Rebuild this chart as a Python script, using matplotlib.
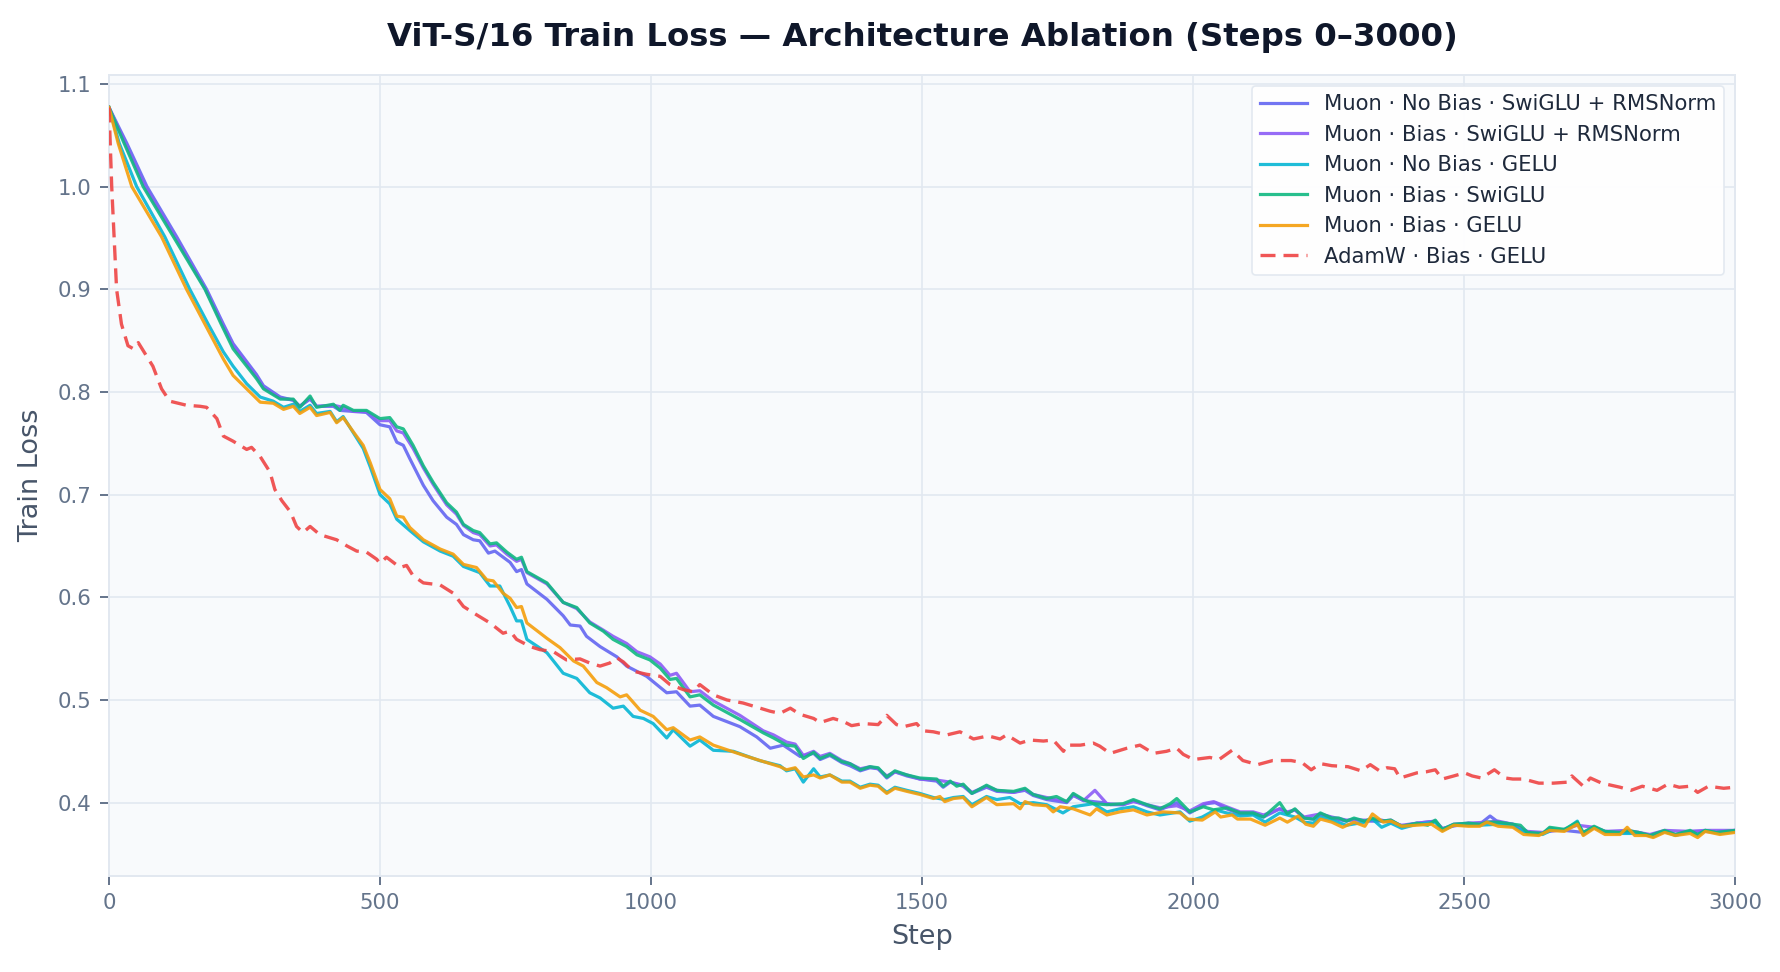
import matplotlib
matplotlib.use("Agg")
import matplotlib.pyplot as plt

# ---------------- data (step, train loss) ----------------
muon_nobias_swiglu_rms = [
    (0, 1.077), (33, 1.042), (70, 1.000), (125, 0.951), (180, 0.900), (211, 0.866), (229, 0.847),
    (272, 0.817), (285, 0.806), (316, 0.795), (340, 0.792), (352, 0.786), (371, 0.793), (383, 0.786),
    (414, 0.786), (426, 0.782), (451, 0.781), (475, 0.780), (500, 0.768), (518, 0.766), (531, 0.751),
    (543, 0.748), (555, 0.735), (580, 0.709), (598, 0.694), (623, 0.678), (641, 0.671), (654, 0.661),
    (672, 0.656), (684, 0.655), (700, 0.643), (712, 0.645), (740, 0.634), (752, 0.625), (761, 0.627),
    (771, 0.613), (808, 0.598), (838, 0.582), (851, 0.573), (869, 0.572), (881, 0.562), (906, 0.552),
    (937, 0.542), (955, 0.533), (992, 0.523), (1029, 0.507), (1047, 0.508), (1072, 0.494), (1090, 0.495),
    (1115, 0.484), (1164, 0.474), (1195, 0.464), (1220, 0.453), (1244, 0.456), (1275, 0.445), (1300, 0.448),
    (1312, 0.442), (1330, 0.446), (1352, 0.439), (1367, 0.436), (1386, 0.431), (1404, 0.434), (1419, 0.433),
    (1435, 0.424), (1450, 0.430), (1472, 0.426), (1496, 0.423), (1527, 0.421), (1539, 0.415), (1552, 0.420),
    (1576, 0.416), (1592, 0.409), (1619, 0.415), (1638, 0.411), (1669, 0.410), (1690, 0.412), (1705, 0.407),
    (1730, 0.403), (1767, 0.400), (1779, 0.407), (1798, 0.402), (1834, 0.400), (1848, 0.398), (1871, 0.398),
    (1890, 0.402), (1915, 0.397), (1939, 0.393), (1970, 0.400), (1994, 0.390), (2025, 0.399), (2041, 0.400),
    (2062, 0.394), (2087, 0.389), (2111, 0.389), (2130, 0.386), (2160, 0.394), (2174, 0.390), (2188, 0.393),
    (2205, 0.385), (2222, 0.384), (2235, 0.389), (2256, 0.385), (2283, 0.382), (2297, 0.384), (2317, 0.382),
    (2348, 0.382), (2365, 0.383), (2385, 0.377), (2413, 0.380), (2447, 0.382), (2460, 0.374), (2481, 0.379),
    (2508, 0.380), (2529, 0.379), (2548, 0.387), (2563, 0.381), (2590, 0.379), (2617, 0.371), (2645, 0.370),
    (2658, 0.375), (2685, 0.373), (2720, 0.371), (2740, 0.376), (2760, 0.372), (2788, 0.371), (2822, 0.371),
    (2843, 0.368), (2870, 0.372), (2890, 0.369), (2917, 0.372), (2945, 0.372), (2965, 0.371), (3000, 0.373),
]

muon_bias_swiglu_rms = [
    (0, 1.077), (30, 1.042), (66, 1.000), (122, 0.951), (178, 0.900), (209, 0.866), (229, 0.845),
    (272, 0.815), (285, 0.804), (316, 0.794), (340, 0.792), (352, 0.786), (371, 0.794), (383, 0.786),
    (414, 0.787), (432, 0.785), (451, 0.781), (475, 0.781), (500, 0.772), (518, 0.772), (531, 0.762),
    (543, 0.760), (561, 0.745), (580, 0.726), (598, 0.710), (623, 0.690), (641, 0.681), (654, 0.670),
    (672, 0.663), (684, 0.661), (703, 0.650), (715, 0.651), (734, 0.642), (752, 0.635), (761, 0.637),
    (771, 0.624), (808, 0.613), (838, 0.595), (863, 0.589), (887, 0.576), (912, 0.568), (930, 0.562),
    (955, 0.555), (974, 0.547), (998, 0.542), (1017, 0.535), (1035, 0.524), (1047, 0.526), (1072, 0.508),
    (1090, 0.509), (1115, 0.499), (1164, 0.485), (1207, 0.470), (1226, 0.466), (1250, 0.459), (1266, 0.457),
    (1281, 0.446), (1300, 0.450), (1312, 0.445), (1330, 0.448), (1352, 0.441), (1367, 0.438), (1386, 0.433),
    (1404, 0.435), (1419, 0.433), (1435, 0.426), (1450, 0.430), (1472, 0.427), (1496, 0.423), (1527, 0.422),
    (1552, 0.420), (1576, 0.417), (1592, 0.410), (1619, 0.416), (1638, 0.412), (1669, 0.410), (1690, 0.413),
    (1705, 0.408), (1730, 0.405), (1767, 0.401), (1779, 0.408), (1798, 0.402), (1819, 0.412), (1841, 0.399),
    (1871, 0.398), (1890, 0.401), (1915, 0.398), (1939, 0.395), (1970, 0.397), (1994, 0.392), (2019, 0.399),
    (2038, 0.401), (2062, 0.396), (2087, 0.391), (2111, 0.391), (2130, 0.388), (2160, 0.394), (2174, 0.391),
    (2188, 0.393), (2205, 0.386), (2235, 0.389), (2256, 0.386), (2283, 0.383), (2317, 0.383), (2348, 0.383),
    (2385, 0.378), (2413, 0.380), (2447, 0.382), (2460, 0.375), (2508, 0.380), (2542, 0.381), (2563, 0.382),
    (2590, 0.379), (2617, 0.372), (2645, 0.371), (2685, 0.374), (2709, 0.378), (2740, 0.376), (2760, 0.372),
    (2801, 0.373), (2843, 0.369), (2870, 0.373), (2917, 0.372), (2945, 0.373), (3000, 0.373),
]

muon_nobias_gelu = [
    (0, 1.077), (19, 1.042), (51, 1.000), (103, 0.951), (149, 0.900), (183, 0.866), (211, 0.839),
    (229, 0.825), (254, 0.808), (279, 0.795), (303, 0.791), (322, 0.785), (340, 0.788), (352, 0.781),
    (371, 0.787), (383, 0.779), (408, 0.781), (420, 0.771), (432, 0.776), (451, 0.760), (469, 0.745),
    (482, 0.727), (500, 0.700), (518, 0.691), (531, 0.676), (555, 0.665), (580, 0.654), (611, 0.645),
    (635, 0.640), (654, 0.630), (684, 0.624), (703, 0.611), (721, 0.611), (740, 0.591), (752, 0.577),
    (761, 0.577), (771, 0.559), (808, 0.546), (838, 0.526), (863, 0.521), (887, 0.507), (906, 0.502),
    (930, 0.492), (949, 0.494), (967, 0.484), (986, 0.482), (1004, 0.477), (1029, 0.463), (1041, 0.471),
    (1072, 0.455), (1090, 0.461), (1115, 0.451), (1152, 0.450), (1200, 0.441), (1238, 0.436), (1250, 0.431),
    (1266, 0.433), (1281, 0.420), (1300, 0.433), (1312, 0.425), (1330, 0.427), (1352, 0.421), (1367, 0.421),
    (1386, 0.415), (1404, 0.418), (1419, 0.417), (1435, 0.410), (1450, 0.415), (1472, 0.412), (1496, 0.409),
    (1521, 0.405), (1542, 0.403), (1558, 0.405), (1576, 0.406), (1592, 0.398), (1619, 0.406), (1638, 0.403),
    (1662, 0.405), (1681, 0.399), (1705, 0.400), (1730, 0.398), (1760, 0.390), (1779, 0.396), (1816, 0.399),
    (1841, 0.391), (1865, 0.394), (1890, 0.396), (1915, 0.391), (1939, 0.388), (1976, 0.391), (1994, 0.382),
    (2017, 0.386), (2041, 0.393), (2062, 0.390), (2087, 0.387), (2111, 0.388), (2133, 0.381), (2160, 0.390),
    (2188, 0.386), (2205, 0.381), (2222, 0.380), (2235, 0.386), (2256, 0.383), (2283, 0.378), (2317, 0.381),
    (2331, 0.384), (2348, 0.376), (2365, 0.380), (2385, 0.375), (2413, 0.379), (2447, 0.381), (2460, 0.373),
    (2481, 0.378), (2508, 0.378), (2529, 0.378), (2563, 0.379), (2590, 0.377), (2617, 0.370), (2645, 0.369),
    (2665, 0.374), (2685, 0.373), (2709, 0.382), (2720, 0.369), (2740, 0.376), (2760, 0.371), (2788, 0.370),
    (2822, 0.370), (2849, 0.367), (2870, 0.372), (2890, 0.368), (2917, 0.372), (2931, 0.368), (2945, 0.373),
    (2972, 0.370), (3000, 0.372),
]

muon_bias_swiglu = [
    (0, 1.077), (28, 1.042), (63, 1.000), (119, 0.951), (177, 0.900), (207, 0.866), (229, 0.842),
    (272, 0.813), (285, 0.803), (316, 0.793), (340, 0.793), (352, 0.785), (371, 0.796), (383, 0.785),
    (414, 0.788), (426, 0.782), (432, 0.787), (451, 0.782), (475, 0.782), (500, 0.774), (518, 0.775),
    (531, 0.766), (543, 0.764), (561, 0.748), (580, 0.728), (598, 0.712), (623, 0.692), (641, 0.683),
    (654, 0.671), (672, 0.665), (684, 0.663), (703, 0.652), (715, 0.653), (734, 0.644), (752, 0.637),
    (761, 0.639), (771, 0.625), (808, 0.614), (838, 0.595), (863, 0.590), (887, 0.575), (912, 0.567),
    (930, 0.559), (955, 0.552), (974, 0.544), (998, 0.539), (1017, 0.531), (1035, 0.520), (1047, 0.521),
    (1072, 0.503), (1090, 0.505), (1115, 0.495), (1164, 0.481), (1207, 0.468), (1226, 0.463), (1250, 0.456),
    (1266, 0.455), (1281, 0.443), (1300, 0.449), (1312, 0.443), (1330, 0.447), (1352, 0.440), (1367, 0.438),
    (1386, 0.432), (1404, 0.435), (1419, 0.434), (1435, 0.425), (1450, 0.431), (1472, 0.427), (1496, 0.424),
    (1527, 0.423), (1539, 0.416), (1552, 0.421), (1564, 0.416), (1576, 0.418), (1592, 0.409), (1619, 0.417),
    (1638, 0.412), (1669, 0.411), (1690, 0.414), (1705, 0.408), (1730, 0.404), (1748, 0.406), (1767, 0.401),
    (1779, 0.409), (1798, 0.403), (1816, 0.399), (1841, 0.398), (1871, 0.399), (1890, 0.403), (1915, 0.398),
    (1939, 0.394), (1958, 0.399), (1970, 0.404), (1994, 0.391), (2019, 0.396), (2038, 0.393), (2062, 0.395),
    (2087, 0.390), (2111, 0.390), (2130, 0.386), (2160, 0.400), (2174, 0.389), (2188, 0.394), (2205, 0.385),
    (2222, 0.384), (2235, 0.390), (2256, 0.385), (2269, 0.385), (2283, 0.382), (2297, 0.385), (2317, 0.382),
    (2331, 0.385), (2348, 0.382), (2365, 0.383), (2385, 0.377), (2413, 0.380), (2433, 0.378), (2447, 0.383),
    (2460, 0.374), (2481, 0.379), (2508, 0.380), (2529, 0.379), (2542, 0.381), (2563, 0.381), (2590, 0.379),
    (2604, 0.378), (2617, 0.371), (2645, 0.370), (2658, 0.376), (2685, 0.374), (2709, 0.381), (2720, 0.371),
    (2740, 0.377), (2760, 0.372), (2788, 0.371), (2801, 0.373), (2822, 0.371), (2843, 0.368), (2870, 0.373),
    (2890, 0.369), (2917, 0.373), (2931, 0.369), (2945, 0.373), (2965, 0.371), (3000, 0.373),
]

muon_bias_gelu = [
    (0, 1.077), (17, 1.042), (42, 1.000), (97, 0.951), (143, 0.900), (177, 0.866), (211, 0.832),
    (229, 0.816), (254, 0.803), (279, 0.790), (303, 0.789), (322, 0.783), (340, 0.786), (352, 0.779),
    (371, 0.785), (383, 0.777), (408, 0.780), (420, 0.770), (432, 0.775), (451, 0.761), (469, 0.748),
    (482, 0.731), (500, 0.705), (518, 0.696), (531, 0.679), (543, 0.678), (555, 0.668), (580, 0.656),
    (611, 0.647), (635, 0.642), (654, 0.632), (678, 0.629), (697, 0.617), (709, 0.616), (727, 0.604),
    (740, 0.599), (752, 0.590), (761, 0.591), (771, 0.575), (808, 0.560), (832, 0.551), (857, 0.538),
    (875, 0.533), (900, 0.517), (918, 0.512), (943, 0.503), (955, 0.505), (980, 0.490), (1004, 0.484),
    (1029, 0.471), (1041, 0.473), (1072, 0.461), (1090, 0.464), (1115, 0.456), (1177, 0.445), (1238, 0.435),
    (1250, 0.432), (1266, 0.434), (1281, 0.425), (1300, 0.427), (1312, 0.424), (1330, 0.427), (1352, 0.420),
    (1367, 0.420), (1386, 0.414), (1404, 0.417), (1419, 0.416), (1435, 0.409), (1450, 0.414), (1472, 0.411),
    (1496, 0.408), (1521, 0.404), (1533, 0.406), (1542, 0.401), (1558, 0.404), (1576, 0.405), (1592, 0.396),
    (1619, 0.405), (1638, 0.398), (1669, 0.399), (1681, 0.394), (1690, 0.401), (1705, 0.398), (1730, 0.397),
    (1742, 0.391), (1755, 0.396), (1779, 0.394), (1810, 0.388), (1822, 0.394), (1841, 0.388), (1865, 0.391),
    (1890, 0.393), (1915, 0.388), (1945, 0.391), (1976, 0.390), (1990, 0.384), (2017, 0.383), (2041, 0.391),
    (2051, 0.386), (2072, 0.388), (2082, 0.384), (2106, 0.384), (2133, 0.378), (2160, 0.385), (2174, 0.381),
    (2194, 0.387), (2208, 0.379), (2222, 0.377), (2235, 0.384), (2256, 0.381), (2276, 0.376), (2297, 0.381),
    (2317, 0.377), (2331, 0.389), (2351, 0.381), (2365, 0.382), (2385, 0.377), (2413, 0.378), (2440, 0.379),
    (2460, 0.372), (2481, 0.378), (2508, 0.377), (2529, 0.377), (2542, 0.381), (2563, 0.377), (2590, 0.376),
    (2610, 0.369), (2638, 0.368), (2658, 0.373), (2685, 0.372), (2709, 0.379), (2720, 0.368), (2740, 0.375),
    (2760, 0.369), (2788, 0.369), (2801, 0.376), (2815, 0.368), (2836, 0.368), (2849, 0.366), (2870, 0.371),
    (2890, 0.368), (2917, 0.370), (2931, 0.366), (2945, 0.372), (2972, 0.369), (3000, 0.371),
]

adamw_bias_gelu = [
    (0, 1.077), (5, 1.000), (14, 0.900), (23, 0.866), (35, 0.845), (45, 0.842), (54, 0.848),
    (81, 0.825), (97, 0.803), (112, 0.791), (143, 0.787), (168, 0.786), (180, 0.785), (199, 0.774),
    (211, 0.757), (229, 0.752), (254, 0.744), (263, 0.746), (279, 0.737), (297, 0.722), (306, 0.705),
    (319, 0.694), (335, 0.683), (346, 0.669), (358, 0.663), (371, 0.669), (389, 0.661), (408, 0.658),
    (420, 0.656), (439, 0.650), (457, 0.645), (475, 0.644), (494, 0.637), (500, 0.633), (512, 0.639),
    (537, 0.629), (549, 0.631), (561, 0.621), (580, 0.614), (611, 0.612), (635, 0.604), (654, 0.591),
    (678, 0.583), (703, 0.575), (727, 0.565), (740, 0.567), (752, 0.559), (777, 0.552), (795, 0.549),
    (820, 0.547), (844, 0.539), (869, 0.540), (887, 0.536), (906, 0.533), (924, 0.536), (937, 0.541),
    (949, 0.537), (967, 0.528), (992, 0.525), (1017, 0.523), (1035, 0.515), (1060, 0.510), (1078, 0.508),
    (1090, 0.515), (1115, 0.505), (1140, 0.500), (1170, 0.497), (1201, 0.492), (1220, 0.489), (1238, 0.487),
    (1257, 0.492), (1275, 0.486), (1300, 0.482), (1312, 0.478), (1336, 0.482), (1355, 0.479), (1370, 0.475),
    (1392, 0.477), (1419, 0.476), (1435, 0.485), (1453, 0.476), (1466, 0.474), (1490, 0.477), (1502, 0.470),
    (1521, 0.469), (1546, 0.466), (1570, 0.469), (1595, 0.462), (1622, 0.465), (1644, 0.462), (1656, 0.466),
    (1681, 0.458), (1699, 0.461), (1724, 0.460), (1742, 0.461), (1761, 0.450), (1767, 0.456), (1792, 0.456),
    (1816, 0.458), (1828, 0.455), (1847, 0.448), (1878, 0.453), (1902, 0.456), (1927, 0.448), (1951, 0.450),
    (1970, 0.453), (1982, 0.447), (2001, 0.442), (2031, 0.444), (2048, 0.442), (2072, 0.451), (2092, 0.441),
    (2119, 0.437), (2147, 0.441), (2181, 0.441), (2201, 0.439), (2218, 0.432), (2235, 0.438), (2256, 0.436),
    (2286, 0.435), (2310, 0.431), (2327, 0.437), (2344, 0.431), (2358, 0.434), (2372, 0.433), (2382, 0.424),
    (2413, 0.429), (2430, 0.430), (2447, 0.432), (2460, 0.423), (2481, 0.426), (2501, 0.429), (2515, 0.426),
    (2532, 0.424), (2556, 0.432), (2576, 0.424), (2590, 0.423), (2610, 0.423), (2638, 0.419), (2665, 0.419),
    (2692, 0.420), (2699, 0.426), (2720, 0.416), (2733, 0.424), (2754, 0.419), (2788, 0.415), (2808, 0.412),
    (2829, 0.416), (2856, 0.412), (2876, 0.418), (2897, 0.415), (2917, 0.416), (2931, 0.410), (2951, 0.416),
    (2979, 0.414), (3000, 0.415),
]

series_labels = [
    "Muon · No Bias · SwiGLU + RMSNorm",
    "Muon · Bias · SwiGLU + RMSNorm",
    "Muon · No Bias · GELU",
    "Muon · Bias · SwiGLU",
    "Muon · Bias · GELU",
    "AdamW · Bias · GELU",
]
series_data = [
    muon_nobias_swiglu_rms,
    muon_bias_swiglu_rms,
    muon_nobias_gelu,
    muon_bias_swiglu,
    muon_bias_gelu,
    adamw_bias_gelu,
]
series_colors = ["#6366f1", "#8b5cf6", "#06b6d4", "#10b981", "#f59e0b", "#ef4444"]

x_ticks = [0, 500, 1000, 1500, 2000, 2500, 3000]
y_ticks = [0.4, 0.5, 0.6, 0.7, 0.8, 0.9, 1.0, 1.1]

title_text = "ViT-S/16 Train Loss — Architecture Ablation (Steps 0–3000)"

# ---------------- figure ----------------
plt.rcParams["font.family"] = ["DejaVu Sans"]
fig = plt.figure(figsize=(17.81, 9.72), dpi=100)
fig.patch.set_facecolor("white")
ax = fig.add_axes([0.0612, 0.0988, 0.9130, 0.8240])
ax.set_facecolor("#f8fafc")

for data, label, color in zip(series_data, series_labels, series_colors):
    steps = [p[0] for p in data]
    loss = [p[1] for p in data]
    if label.startswith("AdamW"):
        ax.plot(steps, loss, color=color, lw=2.4, alpha=0.9,
                linestyle=(0, (4.5, 2.4)), label=label, zorder=3)
    else:
        ax.plot(steps, loss, color=color, lw=2.3, alpha=0.9, label=label, zorder=3)

ax.set_xlim(0, 3000)
ax.set_ylim(0.3286, 1.1086)
ax.set_xticks(x_ticks)
ax.set_yticks(y_ticks)
ax.set_yticklabels([f"{v:.1f}" for v in y_ticks])

ax.grid(True, color="#e2e8f0", linewidth=1.2, zorder=0)
ax.set_axisbelow(True)
for sp in ax.spines.values():
    sp.set_color("#e2e8f0")
    sp.set_linewidth(1.4)

ax.tick_params(axis="both", colors="#64748b", labelsize=15.3, length=6.5, width=1.4,
               pad=6, labelcolor="#64748b")

ax.set_xlabel("Step", fontsize=19.5, color="#475569", labelpad=8)
ax.set_ylabel("Train Loss", fontsize=19.5, color="#475569", labelpad=10)
ax.set_title(title_text, fontsize=23.3, fontweight="bold", color="#0f172a", pad=21)

leg = ax.legend(loc="upper right", fontsize=15.2, frameon=True, fancybox=True,
                framealpha=0.95, edgecolor="#e2e8f0", facecolor="white",
                labelspacing=0.5, handlelength=2.2, borderaxespad=0.5)
for t in leg.get_texts():
    t.set_color("#1e293b")
leg.get_frame().set_linewidth(1.2)

fig.savefig("out.png", dpi=100, facecolor="white")
